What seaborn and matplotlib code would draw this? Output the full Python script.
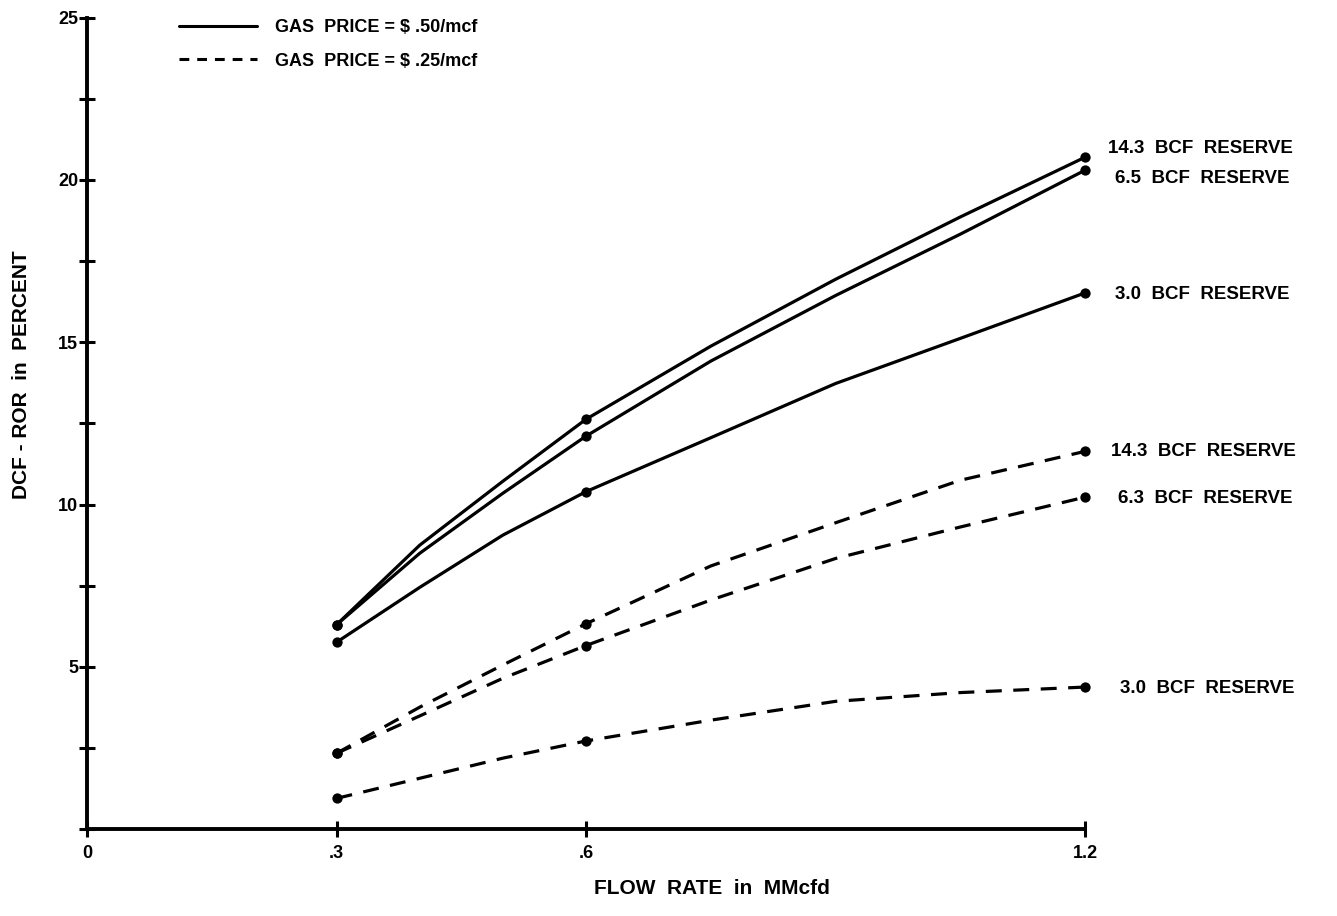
import pandas as pd
import numpy as np
import matplotlib.pyplot as plt
import seaborn as sns
from matplotlib.lines import Line2D
from matplotlib.ticker import MultipleLocator

# values
flow_rate = [0.3, 0.4, 0.5, 0.6, 0.75, 0.9, 1.05, 1.2]
marker_flow = [0.3, 0.6, 1.2]

ror_50_143 = [6.30, 8.75, 10.72, 12.63, 14.88, 16.94, 18.86, 20.70]
ror_50_65 = [6.30, 8.50, 10.35, 12.11, 14.42, 16.44, 18.33, 20.30]
ror_50_30 = [5.76, 7.45, 9.06, 10.40, 12.06, 13.73, 15.12, 16.52]
ror_25_143 = [2.34, 3.76, 5.06, 6.33, 8.11, 9.44, 10.75, 11.64]
ror_25_63 = [2.34, 3.49, 4.65, 5.66, 7.06, 8.34, 9.31, 10.23]
ror_25_30 = [0.95, 1.57, 2.19, 2.72, 3.36, 3.94, 4.21, 4.38]

curve_names = ['50_143', '50_65', '50_30', '25_143', '25_63', '25_30']
curve_price = ['$.50', '$.50', '$.50', '$.25', '$.25', '$.25']
curve_labels = ['14.3  BCF  RESERVE', '6.5  BCF  RESERVE', '3.0  BCF  RESERVE',
                '14.3  BCF  RESERVE', '6.3  BCF  RESERVE', '3.0  BCF  RESERVE']
curve_values = [ror_50_143, ror_50_65, ror_50_30, ror_25_143, ror_25_63, ror_25_30]

rows = []
for name, price, vals in zip(curve_names, curve_price, curve_values):
    for x, y in zip(flow_rate, vals):
        rows.append({'curve': name, 'price': price, 'flow': x, 'ror': y})
df = pd.DataFrame(rows)

sns.set_theme(style='white')
plt.rcParams['font.family'] = ['Liberation Sans Narrow', 'Liberation Sans', 'DejaVu Sans']
plt.rcParams['font.weight'] = 'bold'
plt.rcParams['text.color'] = 'black'

fig = plt.figure(figsize=(13.37, 9.16), dpi=100)
ax = fig.add_axes([0.0651, 0.0947, 0.7464, 0.886])

sns.lineplot(data=df, x='flow', y='ror', units='curve', estimator=None,
             style='price', style_order=['$.50', '$.25'],
             dashes={'$.50': '', '$.25': (5.0, 3.6)},
             color='black', lw=2.3, legend=False, ax=ax)

pts = df[df['flow'].isin(marker_flow)]
sns.scatterplot(data=pts, x='flow', y='ror', color='black', s=55,
                edgecolor='black', linewidth=0, legend=False, ax=ax,
                zorder=3, clip_on=False)

ax.set_xlim(0, 1.2)
ax.set_ylim(0, 25)
ax.set_xticks([0, 0.3, 0.6, 1.2], labels=['0', '.3', '.6', '1.2'])
ax.set_yticks([5, 10, 15, 20, 25], labels=['5', '10', '15', '20', '25'])
ax.yaxis.set_minor_locator(MultipleLocator(2.5))
ax.tick_params(axis='both', which='both', direction='inout', length=11,
               width=2.2, color='black', labelsize=13, labelcolor='black',
               bottom=True, left=True)
ax.tick_params(axis='x', pad=6)
ax.tick_params(axis='y', pad=1)
ax.set_xlabel('')
ax.set_ylabel('')

for side in ['top', 'right']:
    ax.spines[side].set_visible(False)
for side in ['left', 'bottom']:
    ax.spines[side].set_linewidth(2.8)
    ax.spines[side].set_color('black')

# reserve labels at the curve ends
label_offsets = [(23, 9), (30, -8), (30, -2), (26, 0), (33, -1), (35, -1)]
for vals, text, (dx, dy) in zip(curve_values, curve_labels, label_offsets):
    ax.annotate(text, xy=(flow_rate[-1], vals[-1]), xytext=(dx, dy),
                textcoords='offset pixels', va='center', ha='left',
                fontsize=13.5, color='black', annotation_clip=False)

handles = [Line2D([], [], color='black', lw=2.2),
           Line2D([], [], color='black', lw=2.2, dashes=(3.2, 2.6))]
ax.legend(handles, ['GAS  PRICE = $ .50/mcf', 'GAS  PRICE = $ .25/mcf'],
          loc='upper left', bbox_to_anchor=(0.076, 1.018), frameon=False,
          handlelength=4.3, handletextpad=1.0, labelspacing=0.9, fontsize=13,
          labelcolor='black')

fig.text(22 / 1337, 1 - 375 / 916, 'DCF - ROR  in  PERCENT', rotation=90,
         ha='center', va='center', fontsize=15, color='black')
fig.text(712 / 1337, 1 - 888 / 916, 'FLOW  RATE  in  MMcfd',
         ha='center', va='center', fontsize=15, color='black')

fig.savefig('out.png', dpi=100)
